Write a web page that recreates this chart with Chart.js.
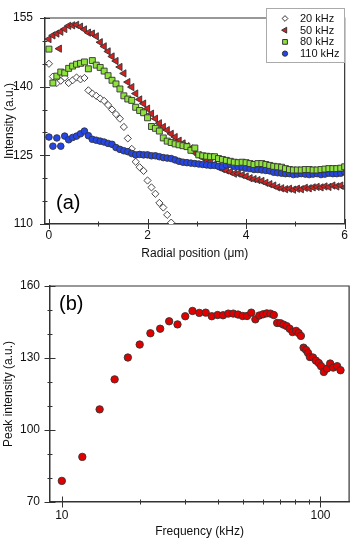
<!DOCTYPE html>
<html>
<head>
<meta charset="utf-8">
<script src="https://cdn.jsdelivr.net/npm/chart.js@4.4.1/dist/chart.umd.min.js"></script>
<style>
  body { margin: 0; background: #fff; }
  #wrap { position: relative; width: 354px; height: 541px; }
  canvas { position: absolute; left: 0; }
</style>
</head>
<body>
<div id="wrap">
  <canvas id="radialChart" width="354" height="270" style="top:0"></canvas>
  <canvas id="freqChart" width="354" height="271" style="top:270px"></canvas>
</div>
<script>
// panel (a): intensity vs radial position
const radialPos = [
  0.00, 0.08, 0.16, 0.24, 0.32, 0.40, 0.48, 0.56, 0.64, 0.72,
  0.80, 0.88, 0.96, 1.04, 1.12, 1.20, 1.28, 1.36, 1.44, 1.52,
  1.60, 1.68, 1.76, 1.84, 1.92, 2.00, 2.08, 2.16, 2.24, 2.32,
  2.40, 2.48, 2.56, 2.64, 2.72, 2.80, 2.88, 2.96, 3.04, 3.12,
  3.20, 3.28, 3.36, 3.44, 3.52, 3.60, 3.68, 3.76, 3.84, 3.92,
  4.00, 4.08, 4.16, 4.24, 4.32, 4.40, 4.48, 4.56, 4.64, 4.72,
  4.80, 4.88, 4.96, 5.04, 5.12, 5.20, 5.28, 5.36, 5.44, 5.52,
  5.60, 5.68, 5.76, 5.84, 5.92, 6.00
];
const intensity20 = [
  145.0, 142.2, 140.8, 141.3, 142.0, 140.8, 141.4, 142.0, 141.6, 141.9,
  139.2, 138.5, 138.0, 137.4, 136.9, 136.0, 135.0, 134.0, 133.0, 131.2,
  128.7, 126.4, 123.6, 122.4, 121.6, 119.5, 118.0, 116.6, 114.6, 113.6,
  112.0, 110.3
];
const intensity50 = [
  150.4, 151.2, 151.6, 152.0, 152.6, 153.3, 153.4, 153.5, 153.1, 152.5,
  151.8, 151.6, 151.0, 149.7, 148.8, 147.7, 146.6, 145.6, 144.3, 142.9,
  141.0, 139.9, 138.5, 137.2, 136.3, 135.2, 134.1, 133.0, 132.0, 131.2,
  130.5, 129.7, 129.0, 128.2, 127.6, 127.0, 126.5, 125.6, 125.0, 124.5,
  124.1, 123.6, 123.0, 122.4, 122.0, 121.7, 121.4, 121.0, 121.0, 120.7,
  120.4, 120.0, 119.8, 119.6, 119.4, 119.0, 118.7, 118.4, 118.0, 117.8,
  117.6, 117.7, 117.5, 117.7, 117.6, 117.9, 117.8, 118.0, 118.1, 118.0,
  118.2, 118.1, 118.4, 118.2, 118.4, 118.0
];
const intensity50Extra = [[0.21, 148.3]];
const intensity80 = [
  148.2, 140.8, 142.3, 143.2, 143.0, 144.0, 144.5, 144.9, 145.1, 145.4,
  143.9, 145.7, 144.7, 144.2, 143.4, 142.4, 141.4, 140.6, 139.5, 138.0,
  137.3, 137.0, 135.5, 134.8, 134.3, 133.2, 131.3, 130.9, 130.3, 128.8,
  128.1, 127.8, 127.5, 127.3, 127.1, 126.9, 126.1, 126.6, 125.1, 124.9,
  124.8, 124.7, 124.7, 124.3, 124.1, 123.9, 123.7, 123.5, 123.4, 123.5,
  123.4, 123.2, 123.0, 123.2, 123.2, 123.0, 122.8, 122.6, 122.5, 122.4,
  122.1, 121.9, 121.8, 121.8, 121.8, 121.9, 121.9, 121.8, 121.8, 121.9,
  122.0, 122.1, 122.1, 122.1, 122.2, 122.5
];
const intensity110 = [
  129.0, 127.0, 128.8, 127.0, 129.2, 128.4, 128.9, 129.2, 129.7, 130.3,
  129.3, 128.5, 128.3, 128.1, 127.9, 127.6, 127.4, 126.7, 126.3, 126.0,
  125.8, 125.4, 125.1, 125.2, 125.1, 125.1, 124.9, 124.9, 124.7, 124.5,
  124.4, 124.3, 124.0, 123.7, 123.5, 123.4, 123.3, 123.2, 123.1, 123.0,
  122.9, 122.8, 122.8, 122.6, 122.5, 122.9, 123.0, 122.6, 122.5, 122.4,
  122.2, 122.1, 121.9, 121.9, 121.8, 121.7, 121.6, 121.3, 121.2, 121.1,
  121.0, 121.0, 120.8, 120.9, 121.0, 120.9, 120.8, 120.9, 121.0, 120.8,
  120.9, 121.1, 121.0, 121.0, 121.1, 121.4
];
const seriesNames = ["20 kHz", "50 kHz", "80 kHz", "110 kHz"];
const radialTicks = [0, 1, 2, 3, 4, 5, 6];
const radialTickLabels = [0, 2, 4, 6];
const intensityTicks = [110, 115, 120, 125, 130, 135, 140, 145, 150, 155];
const intensityTickLabels = [110, 125, 140, 155];

// panel (b): peak intensity vs frequency
const frequency = [
  10, 12, 14, 16, 18, 20, 22, 24, 26, 28,
  30, 32, 34, 36, 38, 40, 42, 44, 46, 48,
  50, 52, 54, 56, 58, 60, 62, 64, 66, 68,
  70, 72, 74, 76, 78, 80.5, 82.3, 84, 86, 88,
  89.5, 91, 93.5, 96, 98.5, 100.5, 103, 106, 109, 112,
  116, 119.5
];
const peakIntensity = [
  78.8, 88.8, 108.6, 121.1, 130.2, 135.6, 140.3, 142.2, 145.3, 144.0,
  147.4, 149.6, 148.8, 148.9, 147.4, 147.9, 147.8, 148.5, 148.5, 148.1,
  147.5, 147.5, 148.9, 146.1, 147.7, 148.2, 148.6, 148.5, 147.9, 144.6,
  144.5, 143.9, 143.3, 142.2, 140.8, 141.3, 140.4, 139.2, 134.3, 133.3,
  132.1, 130.4, 130.2, 128.9, 127.9, 126.6, 124.2, 125.6, 127.7, 126.0,
  126.6, 124.9
];
const freqTicks = [10, 20, 30, 40, 50, 60, 70, 80, 90, 100];
const freqTickLabels = [10, 100];
const peakTicks = [70, 80, 90, 100, 110, 120, 130, 140, 150, 160];
const peakTickLabels = [70, 100, 130, 160];

const FONT = '"Liberation Sans", Arial, sans-serif';
const axisColor = "#333";
const textColor = "#111";
Chart.defaults.font.family = FONT;
Chart.defaults.color = textColor;

function pairs(xs, ys) {
  return ys.map((y, i) => ({ x: xs[i], y: y }));
}

function fixedTicks(values) {
  return (scale) => {
    scale.ticks = values.map((v) => ({ value: v }));
  };
}

function labelOnly(list) {
  return (value) => (list.includes(value) ? String(value) : "");
}

// tick marks crossing the axes, top/right frame, panel letter
const axisDecor = {
  id: "axisDecor",
  afterDraw(chart, args, opts) {
    const { ctx, chartArea: a } = chart;
    const xs = chart.scales.x;
    const ys = chart.scales.y;
    ctx.save();
    ctx.strokeStyle = axisColor;
    ctx.lineWidth = 1.2;
    ctx.beginPath();
    ctx.moveTo(a.left, a.top);
    ctx.lineTo(a.right, a.top);
    ctx.lineTo(a.right, a.bottom);
    ctx.stroke();

    ctx.lineWidth = 1;
    xs.ticks.forEach((t) => {
      const px = Math.round(xs.getPixelForValue(t.value)) + 0.5;
      const len = t.label !== "" ? opts.major : opts.minor;
      ctx.beginPath();
      ctx.moveTo(px, a.bottom - len);
      ctx.lineTo(px, a.bottom + len);
      ctx.stroke();
    });
    ys.ticks.forEach((t) => {
      const py = Math.round(ys.getPixelForValue(t.value)) + 0.5;
      const len = t.label !== "" ? opts.major : opts.minor;
      ctx.beginPath();
      ctx.moveTo(a.left - len, py);
      ctx.lineTo(a.left + len, py);
      ctx.stroke();
    });

    ctx.fillStyle = "#000";
    ctx.font = "20px " + FONT;
    ctx.textBaseline = "alphabetic";
    ctx.fillText(opts.label, opts.labelX, opts.labelY);
    ctx.restore();
  },
};

const markerStyles = [
  { pointStyle: "rectRot", radius: 3.6, rotation: 0, fill: "#ffffff" },
  { pointStyle: "triangle", radius: 4.2, rotation: -90, fill: "#d42020" },
  { pointStyle: "rect", radius: 4.2, rotation: 0, fill: "#8ee23c" },
  { pointStyle: "circle", radius: 3.3, rotation: 0, fill: "#2446e8" },
];

const boxLegend = {
  id: "boxLegend",
  afterDraw(chart) {
    const ctx = chart.ctx;
    ctx.save();
    ctx.fillStyle = "#fff";
    ctx.strokeStyle = "#aaa";
    ctx.lineWidth = 1;
    ctx.fillRect(266, 8, 78, 54);
    ctx.strokeRect(266.5, 8.5, 78, 54);
    ctx.font = "11px " + FONT;
    ctx.textBaseline = "middle";
    seriesNames.forEach((name, i) => {
      const y = 18.5 + i * 11.7;
      const m = markerStyles[i];
      ctx.fillStyle = m.fill;
      ctx.strokeStyle = axisColor;
      ctx.lineWidth = 1;
      const opt = { pointStyle: m.pointStyle, radius: m.radius * 0.8, rotation: m.rotation, borderWidth: 1 };
      if (Chart.helpers && Chart.helpers.drawPoint) {
        Chart.helpers.drawPoint(ctx, opt, 285, y);
      } else {
        ctx.beginPath();
        ctx.arc(285, y, 3, 0, Math.PI * 2);
        ctx.fill();
        ctx.stroke();
      }
      ctx.fillStyle = textColor;
      ctx.fillText(name, 300, y + 0.5);
    });
    ctx.restore();
  },
};

function scatterSet(label, data, m, order) {
  return {
    label: label,
    data: data,
    order: order,
    showLine: false,
    pointStyle: m.pointStyle,
    pointRadius: m.radius,
    pointRotation: m.rotation,
    pointBackgroundColor: m.fill,
    pointBorderColor: axisColor,
    pointBorderWidth: 0.9,
  };
}

const tickFont = { size: 12, lineHeight: 1 };
const titleFont = { size: 12 };

new Chart(document.getElementById("radialChart"), {
  type: "scatter",
  data: {
    datasets: [
      scatterSet(seriesNames[0], pairs(radialPos, intensity20), markerStyles[0], 4),
      scatterSet(seriesNames[1], pairs(radialPos, intensity50).concat(intensity50Extra.map((p) => ({ x: p[0], y: p[1] }))), markerStyles[1], 3),
      scatterSet(seriesNames[2], pairs(radialPos, intensity80), markerStyles[2], 1),
      scatterSet(seriesNames[3], pairs(radialPos, intensity110), markerStyles[3], 2),
    ],
  },
  options: {
    responsive: false,
    animation: false,
    layout: { padding: { top: 6, right: 7, left: 0, bottom: 0 } },
    plugins: {
      legend: { display: false },
      tooltip: { enabled: false },
      axisDecor: { major: 5, minor: 2.5, label: "(a)", labelX: 56, labelY: 209 },
    },
    scales: {
      x: {
        type: "linear",
        min: -0.08,
        max: 6,
        afterBuildTicks: fixedTicks(radialTicks),
        afterFit: (s) => { s.height = 46; },
        grid: { display: false, drawTicks: false },
        border: { display: true, color: axisColor, width: 1.5 },
        ticks: { padding: 6, font: tickFont, color: textColor, maxRotation: 0, autoSkip: false, callback: labelOnly(radialTickLabels) },
        title: { display: true, text: "Radial position (μm)", font: titleFont, color: textColor, padding: { top: 0, bottom: 9 } },
      },
      y: {
        type: "linear",
        min: 110,
        max: 155,
        afterBuildTicks: fixedTicks(intensityTicks),
        afterFit: (s) => { s.width = 45; },
        grid: { display: false, drawTicks: false },
        border: { display: true, color: axisColor, width: 1.5 },
        ticks: { padding: 12, font: tickFont, color: textColor, autoSkip: false, callback: labelOnly(intensityTickLabels) },
        title: { display: true, text: "Intensity (a.u.)", font: titleFont, color: textColor, padding: { top: 2, bottom: 0 } },
      },
    },
  },
  plugins: [axisDecor, boxLegend],
});

new Chart(document.getElementById("freqChart"), {
  type: "scatter",
  data: {
    datasets: [
      scatterSet("Peak intensity", pairs(frequency, peakIntensity), { pointStyle: "circle", radius: 3.7, rotation: 0, fill: "#e00000" }, 1),
    ],
  },
  options: {
    responsive: false,
    animation: false,
    layout: { padding: { top: 16, right: 3, left: 0, bottom: 0 } },
    plugins: {
      legend: { display: false },
      tooltip: { enabled: false },
      axisDecor: { major: 5.5, minor: 2.5, label: "(b)", labelX: 59, labelY: 40 },
    },
    scales: {
      x: {
        type: "logarithmic",
        min: 9,
        max: 129,
        afterBuildTicks: fixedTicks(freqTicks),
        afterFit: (s) => { s.height = 39; },
        grid: { display: false, drawTicks: false },
        border: { display: true, color: axisColor, width: 1.5 },
        ticks: { padding: 8, font: tickFont, color: textColor, maxRotation: 0, autoSkip: false, callback: labelOnly(freqTickLabels) },
        title: { display: true, text: "Frequency (kHz)", font: titleFont, color: textColor, padding: { top: 0, bottom: 2 } },
      },
      y: {
        type: "linear",
        min: 70,
        max: 160,
        afterBuildTicks: fixedTicks(peakTicks),
        afterFit: (s) => { s.width = 50; },
        grid: { display: false, drawTicks: false },
        border: { display: true, color: axisColor, width: 1.5 },
        ticks: { padding: 10, font: tickFont, color: textColor, autoSkip: false, callback: labelOnly(peakTickLabels) },
        title: { display: true, text: "Peak intensity (a.u.)", font: titleFont, color: textColor, padding: { top: 1, bottom: 0 } },
      },
    },
  },
  plugins: [axisDecor],
});
</script>
</body>
</html>
